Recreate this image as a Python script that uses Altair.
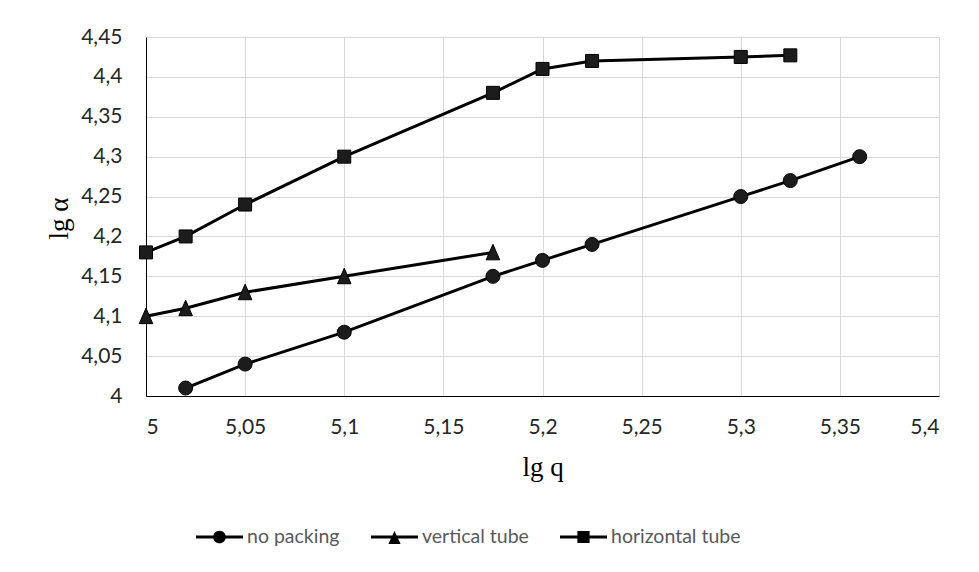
import altair as alt
import pandas as pd

series_names = ["no packing", "vertical tube", "horizontal tube"]

np_x = [5.02, 5.05, 5.1, 5.175, 5.2, 5.225, 5.3, 5.325, 5.36]
np_y = [4.01, 4.04, 4.08, 4.15, 4.17, 4.19, 4.25, 4.27, 4.30]

vt_x = [5.0, 5.02, 5.05, 5.1, 5.175]
vt_y = [4.10, 4.11, 4.13, 4.15, 4.18]

ht_x = [5.0, 5.02, 5.05, 5.1, 5.175, 5.2, 5.225, 5.3, 5.325]
ht_y = [4.18, 4.20, 4.24, 4.30, 4.38, 4.41, 4.42, 4.425, 4.427]

x_ticks = [5.0, 5.05, 5.1, 5.15, 5.2, 5.25, 5.3, 5.35, 5.4]
y_ticks = [4.0, 4.05, 4.1, 4.15, 4.2, 4.25, 4.3, 4.35, 4.4, 4.45]

rows = []
for name, xs, ys in [(series_names[0], np_x, np_y),
                     (series_names[1], vt_x, vt_y),
                     (series_names[2], ht_x, ht_y)]:
    for xv, yv in zip(xs, ys):
        rows.append({"series": name, "lgq": xv, "lga": yv})
df = pd.DataFrame(rows)

TRI = "M0,-1.2L1,1.1L-1,1.1Z"
LINE = "M-1,-0.064H1V0.064H-1Z"
LEG_C = LINE + "M0.27,0A0.27,0.27,0,1,1,-0.27,0A0.27,0.27,0,1,1,0.27,0Z"
LEG_T = LINE + "M0,-0.26L0.26,0.3L-0.26,0.3Z"
LEG_S = LINE + "M-0.26,-0.26H0.26V0.26H-0.26Z"

fmt = "replace(format(datum.value, '.2~f'), '.', ',')"

x_enc = alt.X(
    "lgq:Q",
    scale=alt.Scale(domain=[5, 5.4], nice=False, zero=False),
    axis=alt.Axis(values=x_ticks, title="lg q", labelExpr=fmt, labelPadding=20,
                  titleX=396.5, titleY=79, titleBaseline="alphabetic", titleAlign="center"),
)
y_enc = alt.Y(
    "lga:Q",
    scale=alt.Scale(domain=[4, 4.45], nice=False, zero=False),
    axis=alt.Axis(values=y_ticks, title="lg α", labelExpr=fmt, labelPadding=24,
                  titleX=-79, titleY=181, titleAngle=-90, titleBaseline="alphabetic",
                  titleAlign="center"),
)

lines = alt.Chart(df).mark_line(color="black", strokeWidth=3).encode(
    x=x_enc, y=y_enc, detail="series:N"
)

points = alt.Chart(df).mark_point(
    filled=True, fill="#1c1c1c", stroke="black", strokeWidth=1, opacity=1
).encode(
    x=x_enc,
    y=y_enc,
    shape=alt.Shape("series:N",
                    scale=alt.Scale(domain=series_names, range=["circle", TRI, "square"]),
                    legend=None),
    size=alt.Size("series:N",
                  scale=alt.Scale(domain=series_names, range=[196, 169, 210]),
                  legend=None),
)

legend_layer = alt.Chart(df).mark_point(
    filled=True, color="black", opacity=0, size=2209
).encode(
    x=x_enc,
    y=y_enc,
    shape=alt.Shape(
        "series:N",
        scale=alt.Scale(domain=series_names, range=[LEG_C, LEG_T, LEG_S]),
        legend=alt.Legend(
            title=None, orient="none", direction="horizontal",
            legendX=50, legendY=476.5, padding=0,
            symbolSize=2209, symbolOpacity=1, symbolFillColor="black",
            symbolStrokeWidth=0, labelFont="Lato", labelFontSize=19.5,
            labelColor="#595959", labelOffset=4, columnPadding=31,
        ),
    ),
)

chart = (
    alt.layer(lines, points, legend_layer)
    .resolve_scale(shape="independent", size="independent")
    .properties(
        width=793, height=359,
        padding={"left": 146, "top": 37, "right": 40, "bottom": 176},
        autosize=alt.AutoSizeParams(type="none"),
        background="white",
    )
    .configure_view(stroke=None)
    .configure_axis(
        grid=True, gridColor="#d9d9d9", gridWidth=1,
        domainColor="black", domainWidth=1,
        ticks=False, tickSize=0,
        labelFont="Lato", labelFontSize=21, labelColor="#262626",
        titleFont="Liberation Serif", titleFontSize=27, titleFontWeight="normal",
        titleColor="black",
    )
)

chart.save("out.html", embed_options={"renderer": "svg", "actions": False})
